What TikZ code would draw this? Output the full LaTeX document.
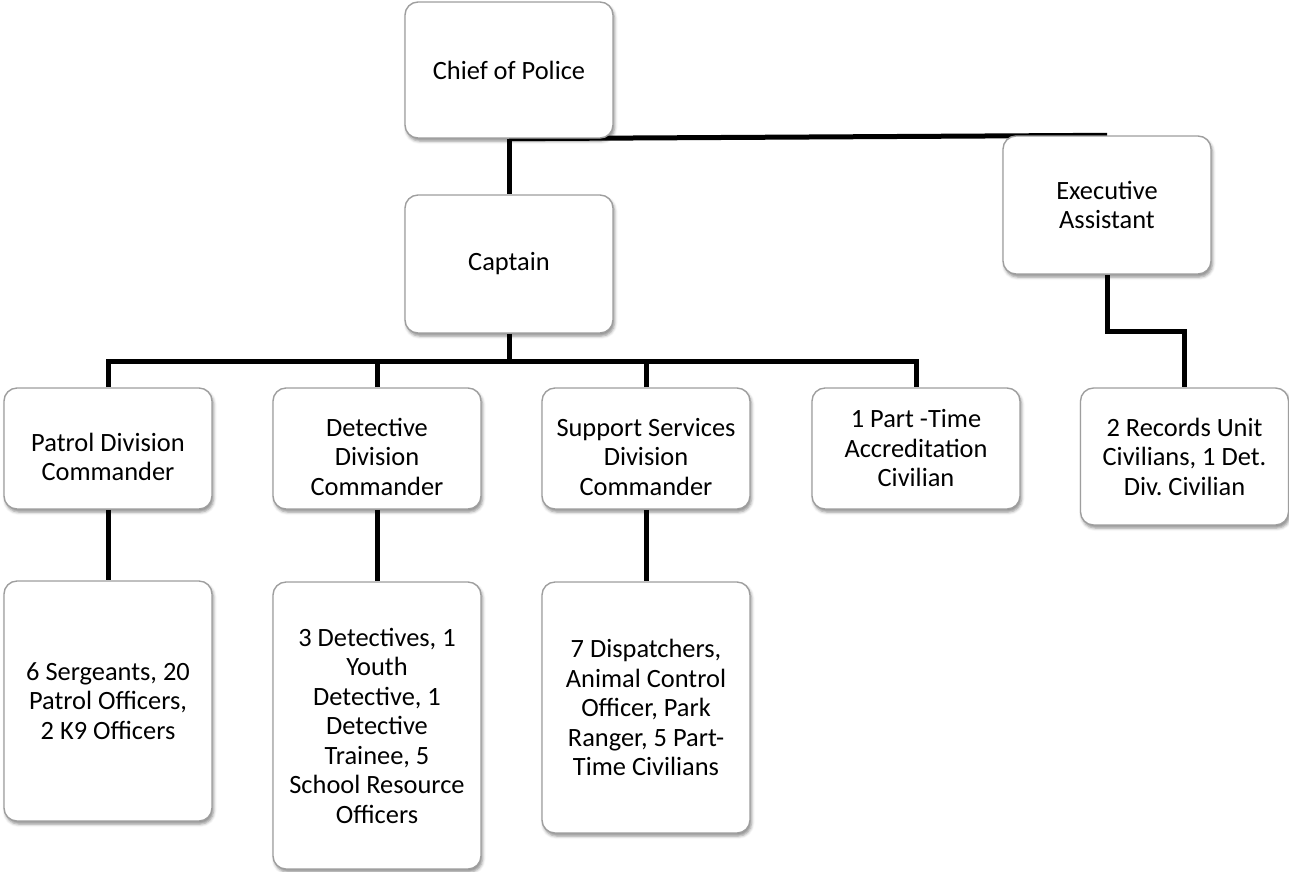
\documentclass[tikz,border=0pt]{standalone}
\usepackage{fontspec}
\setmainfont{Carlito}
\usetikzlibrary{shadows.blur,backgrounds}
\definecolor{boxgray}{RGB}{158,158,158}
% a tall invisible strut that pushes a text block a little lower in its box
\newcommand\droptext{\rule{0pt}{35pt}}
\frenchspacing
\begin{document}
\begin{tikzpicture}[x=1pt,y=-1pt,
  orgbox/.style={draw=boxgray, line width=1.4pt, fill=white,
    rounded corners=13pt, align=center, inner sep=0pt,
    minimum width=208pt,
    font=\fontsize{26.4}{29.5}\selectfont,
    blur shadow={shadow xshift=1.5pt, shadow yshift=-3pt,
      shadow blur radius=3pt, shadow opacity=45}},
  link/.style={line width=5pt, draw=black}]
\useasboundingbox (0,0) rectangle (1289,871);

% top of the chart
\node[orgbox, minimum height=136pt] (chief) at (509,70) {Chief of Police};
\node[orgbox, minimum height=138pt] (captain) at (509,264) {Captain};
\node[orgbox, minimum height=138pt] (exec) at (1107,205) {Executive\\Assistant};

% divisions
\node[orgbox, minimum height=121pt] (patrol) at (108,448.5)
  {\droptext Patrol Division\\Commander};
\node[orgbox, minimum height=121pt] (detect) at (377,448.5)
  {\droptext Detective\\Division\\Commander};
\node[orgbox, minimum height=121pt] (support) at (646,448.5)
  {\droptext Support Services\\Division\\Commander};
\node[orgbox, minimum height=121pt] (accred) at (916,448.5)
  {1 Part -Time\\Accreditation\\Civilian};
\node[orgbox, minimum height=137pt] (records) at (1184.5,456.5)
  {2 Records Unit\\Civilians, 1 Det.\\Div. Civilian};

% staff under each division
\node[orgbox, minimum height=240pt] (patrolsub) at (108,701)
  {6 Sergeants, 20\\Patrol Officers,\\2 K9 Officers};
\node[orgbox, minimum height=287pt] (detectsub) at (377,725.5)
  {3 Detectives, 1\\Youth\\Detective, 1\\Detective\\Trainee, 5\\School Resource\\Officers};
\node[orgbox, minimum height=251pt] (supportsub) at (646,707.5)
  {7 Dispatchers,\\Animal Control\\Officer, Park\\Ranger, 5 Part-\\Time Civilians};

% bend points of the connectors
\coordinate (bus) at (509,361);
\coordinate (ejog) at (1146,331);

\begin{scope}[on background layer]
  \draw[link] (chief.south) -- (captain.north);
  \draw[link] (chief.south) -- (exec.north);
  \draw[link] (captain.south) -- (captain.south |- bus);
  \draw[link] (patrol.north) |- (bus) -| (accred.north);
  \draw[link] (detect.north) -- (detect.north |- bus);
  \draw[link] (support.north) -- (support.north |- bus);
  \draw[link] (exec.south) |- (ejog) -| (records.north);
  \draw[link] (patrol.south) -- (patrolsub.north);
  \draw[link] (detect.south) -- (detectsub.north);
  \draw[link] (support.south) -- (supportsub.north);
\end{scope}
\end{tikzpicture}
\end{document}
